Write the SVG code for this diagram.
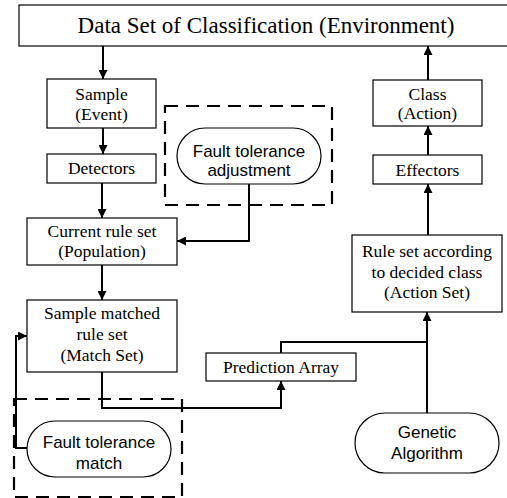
<svg xmlns="http://www.w3.org/2000/svg" width="507" height="498" viewBox="0 0 507 498">
<style>
.box{fill:#fff;stroke:#000;stroke-width:1.2}
.pill{fill:#fff;stroke:#000;stroke-width:1.2}
.dash{fill:none;stroke:#000;stroke-width:2.2;stroke-dasharray:13 8}
.st{font-family:"Liberation Serif","Times New Roman",serif;font-size:17.5px;text-anchor:middle;fill:#000}
.ss{font-family:"Liberation Sans",Arial,sans-serif;font-size:17px;text-anchor:middle;fill:#000}
.ln{fill:none;stroke:#000;stroke-width:2}
</style>
<defs>
<marker id="ah" markerUnits="userSpaceOnUse" markerWidth="9" markerHeight="9" viewBox="0 0 10 10" refX="10" refY="5" orient="auto">
<path d="M0,0 L10,5 L0,10 z" fill="#000"/>
</marker>
</defs>
<rect width="507" height="498" fill="#fff"/>
<g id="dashed-boxes">
<rect class="dash" x="165" y="106" width="167" height="99"/>
<rect class="dash" x="14" y="399" width="168" height="98"/>
</g>
<g id="env">
<rect class="box" x="19" y="5" width="495" height="41"/>
<text class="st" x="266" y="33" style="font-size:23px">Data Set of Classification (Environment)</text>
</g>
<g id="sample">
<rect class="box" x="47" y="79" width="109" height="49"/>
<text class="st" x="101.5" y="100">Sample</text>
<text class="st" x="101.5" y="120">(Event)</text>
</g>
<g id="detectors">
<rect class="box" x="47" y="154" width="109" height="29"/>
<text class="st" x="101.5" y="174">Detectors</text>
</g>
<g id="population">
<rect class="box" x="27" y="218" width="150" height="47"/>
<text class="st" x="102" y="237">Current rule set</text>
<text class="st" x="102" y="257">(Population)</text>
</g>
<g id="matchset">
<rect class="box" x="27" y="300" width="150" height="72"/>
<text class="st" x="102" y="319">Sample matched</text>
<text class="st" x="102" y="340">rule set</text>
<text class="st" x="102" y="361">(Match Set)</text>
</g>
<g id="ft-adjust">
<rect class="pill" x="177" y="128" width="144" height="56" rx="28"/>
<text class="ss" x="249" y="157">Fault tolerance</text>
<text class="ss" x="249" y="176">adjustment</text>
</g>
<g id="ft-match">
<rect class="pill" x="27" y="421" width="144" height="56" rx="28"/>
<text class="ss" x="99" y="448">Fault tolerance</text>
<text class="ss" x="99" y="469">match</text>
</g>
<g id="prediction">
<rect class="box" x="206" y="353" width="150" height="28"/>
<text class="st" x="281" y="373">Prediction Array</text>
</g>
<g id="class">
<rect class="box" x="373" y="80" width="109" height="46"/>
<text class="st" x="427.5" y="100">Class</text>
<text class="st" x="427.5" y="119">(Action)</text>
</g>
<g id="effectors">
<rect class="box" x="373" y="155" width="109" height="29"/>
<text class="st" x="427.5" y="176">Effectors</text>
</g>
<g id="actionset">
<rect class="box" x="352" y="235" width="150" height="77"/>
<text class="st" x="427" y="257">Rule set according</text>
<text class="st" x="427" y="278">to decided class</text>
<text class="st" x="427" y="298">(Action Set)</text>
</g>
<g id="ga">
<rect class="pill" x="355" y="413" width="144" height="60" rx="30"/>
<text class="ss" x="427" y="438">Genetic</text>
<text class="ss" x="427" y="459">Algorithm</text>
</g>
<g id="connectors">
<path class="ln" d="M103,46 V79" marker-end="url(#ah)"/>
<path class="ln" d="M103,128 V154" marker-end="url(#ah)"/>
<path class="ln" d="M102,183 V218" marker-end="url(#ah)"/>
<path class="ln" d="M102,265 V300" marker-end="url(#ah)"/>
<path class="ln" d="M249,184 V241 H177" marker-end="url(#ah)"/>
<path class="ln" d="M102,372 V408 H281 V381" marker-end="url(#ah)"/>
<path class="ln" d="M281,353 V342 H427"/>
<path class="ln" d="M427,413 V312" marker-end="url(#ah)"/>
<path class="ln" d="M428,235 V184" marker-end="url(#ah)"/>
<path class="ln" d="M428,155 V126" marker-end="url(#ah)"/>
<path class="ln" d="M428,80 V46" marker-end="url(#ah)"/>
<path class="ln" d="M27,448 H16 V336 H27" marker-end="url(#ah)"/>
</g>
</svg>
